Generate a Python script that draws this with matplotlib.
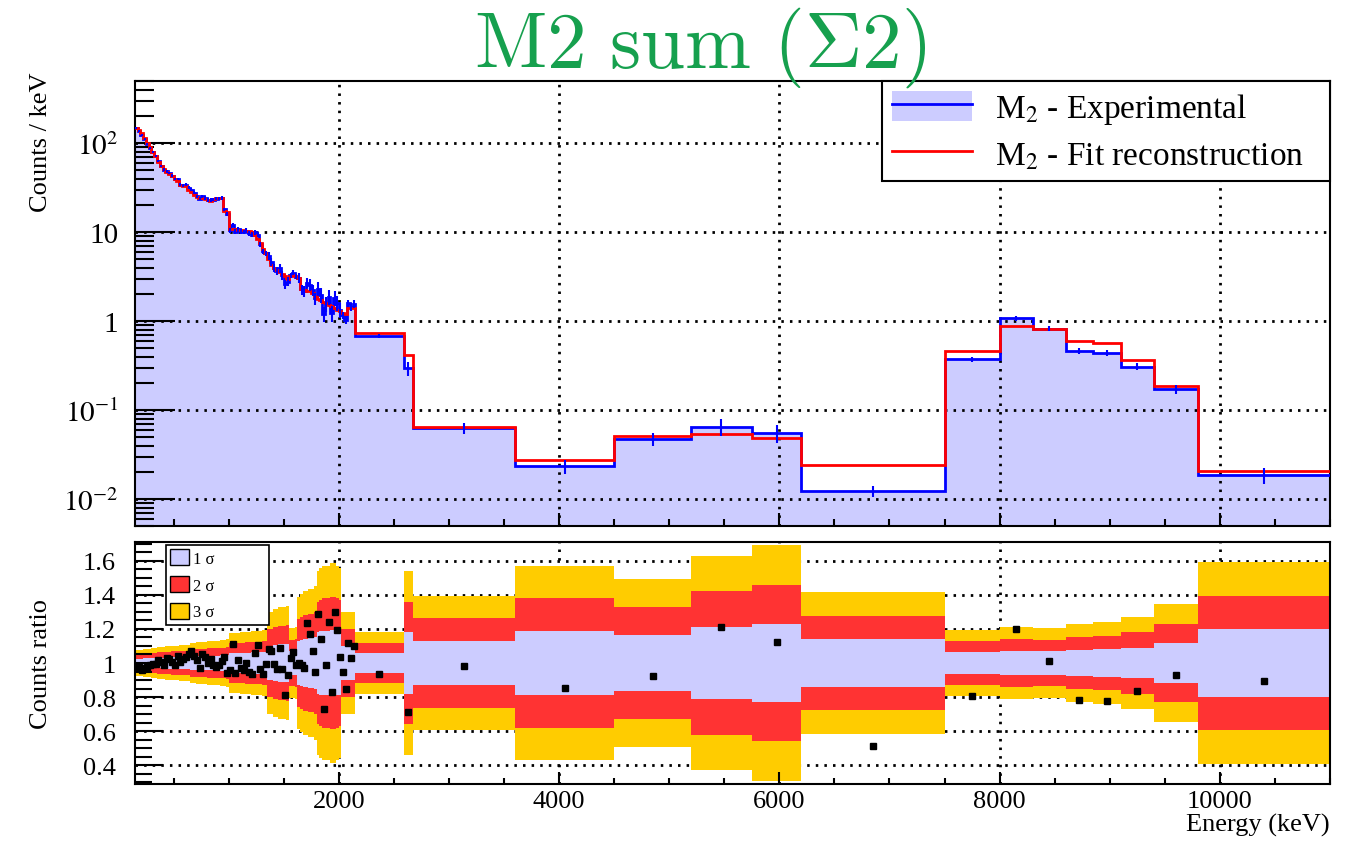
import numpy as np
import matplotlib
matplotlib.use("Agg")
import matplotlib.pyplot as plt
from matplotlib.patches import Patch
from matplotlib.lines import Line2D
from matplotlib.ticker import FixedLocator, LogLocator, MultipleLocator, NullFormatter, FuncFormatter

plt.rcParams["font.family"] = ["Liberation Serif", "DejaVu Serif"]
plt.rcParams["mathtext.fontset"] = "stix"

# -----------------------------------------------------
# DATA
# -----------------------------------------------------
# fine binning at low energy (25 keV bins from 150 to 2150 keV)
fine_start = 150
fine_stop = 2150
fine_width = 25

# wide bins above 2150 keV
wide_edges = [2150, 2590, 2670, 3600, 4500, 5200, 5750, 6200, 7500,
              8000, 8300, 8600, 8850, 9100, 9400, 9800, 11000]

# fit reconstruction (counts / keV)
fit_fine = [150, 140, 130, 115, 100, 90, 80, 72, 62, 55,
            51, 47, 45, 43, 40, 38, 34, 33, 33, 30,
            28, 26.5, 25, 24.5, 24, 23.5, 23, 22.5, 23.5, 24.5,
            24.3, 24, 17.5, 17, 11, 10.8, 10.8, 10.6, 10.6, 10.5,
            10.4, 10.3, 10, 9.4, 8.5, 7.6, 6.5, 5.8, 5.0, 4.3,
            4.0, 3.8, 3.6, 3.4, 3.2, 3.0, 3.2, 3.3, 3.2, 3.1,
            2.3, 2.25, 2.2, 2.2, 2.1, 1.9, 1.8, 1.75, 1.66, 1.6,
            1.52, 1.48, 1.42, 1.34, 1.3, 1.23, 1.22, 1.42, 1.42, 1.42]
fit_wide = [0.73, 0.42, 0.064, 0.0275, 0.0519, 0.0537, 0.0493, 0.0242,
            0.466, 0.895, 0.82, 0.593, 0.568, 0.37, 0.186, 0.0209]

# experimental / fit ratio
ratio_fine = [0.985, 0.976, 0.956, 0.97, 0.976, 0.986, 0.995, 0.995, 1.02, 1.005,
              0.99, 1.029, 1.025, 1.005, 0.991, 1.044, 1.005, 1.025, 1.034, 1.054,
              1.07, 1.044, 1.02, 0.972, 1.054, 1.034, 0.999, 1.025, 0.991, 0.976,
              0.986, 1.01, 1.034, 0.943, 0.956, 1.112, 0.943, 1.015, 0.97, 0.956,
              1.0, 0.946, 0.937, 1.06, 1.103, 0.966, 0.937, 0.995, 1.083, 1.073,
              0.995, 0.966, 1.089, 0.962, 0.81, 0.931, 1.03, 1.067, 0.99, 1.0,
              0.99, 0.972, 1.235, 1.171, 1.073, 0.95, 1.288, 1.138, 0.728, 0.99,
              1.243, 0.829, 1.298, 1.196, 1.038, 0.95, 0.849, 1.12, 1.028, 1.1]
ratio_wide = [0.937, 0.712, 0.985, 0.853, 0.923, 1.214, 1.124, 0.513,
              0.804, 1.2, 1.009, 0.785, 0.775, 0.835, 0.927, 0.894]

# relative uncertainty (1 sigma)
sigma_fine = [0.025, 0.025, 0.026, 0.027, 0.027, 0.028, 0.03, 0.03, 0.031, 0.031,
              0.032, 0.033, 0.033, 0.034, 0.034, 0.034, 0.035, 0.035, 0.036, 0.036,
              0.04, 0.04, 0.041, 0.041, 0.042, 0.042, 0.043, 0.043, 0.043, 0.044,
              0.044, 0.045, 0.045, 0.046, 0.058, 0.058, 0.059, 0.059, 0.06, 0.06,
              0.061, 0.061, 0.062, 0.062, 0.063, 0.063, 0.064, 0.064, 0.1, 0.1,
              0.105, 0.105, 0.11, 0.11, 0.11, 0.112, 0.068, 0.068, 0.07, 0.13,
              0.135, 0.14, 0.14, 0.145, 0.145, 0.15, 0.18, 0.185, 0.19, 0.19,
              0.19, 0.195, 0.195, 0.19, 0.185, 0.1, 0.1, 0.1, 0.1, 0.1]
sigma_wide = [0.06, 0.18, 0.132, 0.19, 0.165, 0.21, 0.23, 0.139,
              0.064, 0.07, 0.068, 0.076, 0.08, 0.09, 0.115, 0.197]

ylabels_top = {1e-2: r"$10^{-2}$", 1e-1: r"$10^{-1}$", 1: "1", 10: "10", 1e2: r"$10^{2}$"}
ratio_ticks = [0.4, 0.6, 0.8, 1.0, 1.2, 1.4, 1.6]

# -----------------------------------------------------
# PREPARATION
# -----------------------------------------------------
edges = np.concatenate([np.arange(fine_start, fine_stop + 1, fine_width), wide_edges[1:]]).astype(float)
fit = np.array(fit_fine + fit_wide)
ratio = np.array(ratio_fine + ratio_wide)
sigma = np.array(sigma_fine + sigma_wide)
exp_counts = fit * ratio
centers = 0.5 * (edges[:-1] + edges[1:])

LAVENDER = "#ccccff"
RED_BAND = "#ff3333"
YELLOW = "#ffcc00"
GRID_LS = (0, (0.9, 2.2))

fig = plt.figure(figsize=(13.51, 8.45), dpi=100)
ax1 = fig.add_axes([0.0999, 0.3763, 0.8846, 0.5266])
ax2 = fig.add_axes([0.0999, 0.0710, 0.8846, 0.2864])

# -----------------------------------------------------
# SPECTRUM
# -----------------------------------------------------
ax1.set_yscale("log")
ax1.stairs(exp_counts, edges, baseline=1e-4, fill=True, color=LAVENDER, lw=0, zorder=1)
ax1.stairs(exp_counts, edges, baseline=None, color="#0000ff", lw=2, zorder=3)
ax1.stairs(fit, edges, baseline=None, color="#ff0000", lw=2, zorder=4)
ax1.errorbar(centers, exp_counts, yerr=exp_counts * sigma, fmt="none",
             ecolor="#0000ff", elinewidth=1.5, zorder=5)

ax1.set_xlim(150, 11000)
ax1.set_ylim(0.005, 500)
ax1.set_axisbelow(False)
ax1.grid(True, which="major", color="black", linestyle=GRID_LS, linewidth=2)
ax1.grid(False, which="minor")

ax1.xaxis.set_major_locator(MultipleLocator(2000))
ax1.xaxis.set_minor_locator(MultipleLocator(500))
ax1.xaxis.set_major_formatter(NullFormatter())
ax1.yaxis.set_major_locator(FixedLocator(list(ylabels_top.keys())))
ax1.yaxis.set_major_formatter(FuncFormatter(lambda v, p: ylabels_top.get(v, "")))
ax1.yaxis.set_minor_locator(LogLocator(base=10, subs=np.arange(2, 10)))
ax1.yaxis.set_minor_formatter(NullFormatter())
ax1.tick_params(axis="both", which="both", direction="in", top=False, right=False, width=1.5)
ax1.tick_params(axis="y", which="major", length=29, labelsize=21, pad=12)
ax1.tick_params(axis="y", which="minor", length=14)
ax1.tick_params(axis="x", which="major", length=9.5)
ax1.tick_params(axis="x", which="minor", length=5)
for s in ax1.spines.values():
    s.set_linewidth(1.5)

handles = [(Patch(facecolor=LAVENDER, edgecolor="none"), Line2D([], [], color="#0000ff", lw=2)),
           Line2D([], [], color="#ff0000", lw=2)]
leg1 = ax1.legend(handles, ["M$_2$ - Experimental", "M$_2$ - Fit reconstruction"],
                  loc="upper left", bbox_to_anchor=(0.625, 0.775, 0.375, 0.225), mode="expand",
                  borderaxespad=0, fancybox=False, edgecolor="black", framealpha=1,
                  fontsize=24, handlelength=2.4, handleheight=1.0, handletextpad=0.7,
                  borderpad=0.3, labelspacing=0.35)
leg1.get_frame().set_linewidth(1.5)

# -----------------------------------------------------
# RATIO
# -----------------------------------------------------
for gy in [0.4, 0.6, 0.8, 1.2, 1.4, 1.6]:
    ax2.axhline(gy, color="black", linestyle=GRID_LS, linewidth=2, zorder=0.5)
for gx in range(2000, 11000, 2000):
    ax2.axvline(gx, color="black", linestyle=GRID_LS, linewidth=2, zorder=0.5)

ax2.stairs(1 + 3 * sigma, edges, baseline=1 - 3 * sigma, fill=True, color=YELLOW, lw=0, zorder=1)
ax2.stairs(1 + 2 * sigma, edges, baseline=1 - 2 * sigma, fill=True, color=RED_BAND, lw=0, zorder=1.1)
ax2.stairs(1 + sigma, edges, baseline=1 - sigma, fill=True, color=LAVENDER, lw=0, zorder=1.2)
ax2.plot(centers, ratio, "s", color="black", ms=3.8, zorder=4)

ax2.set_xlim(150, 11000)
ax2.set_ylim(0.29, 1.71)
ax2.xaxis.set_major_locator(MultipleLocator(2000))
ax2.xaxis.set_minor_locator(MultipleLocator(500))
ax2.yaxis.set_major_locator(FixedLocator(ratio_ticks))
ax2.yaxis.set_major_formatter(FuncFormatter(lambda v, p: f"{v:g}"))
ax2.yaxis.set_minor_locator(MultipleLocator(0.05))
ax2.tick_params(axis="both", which="both", direction="in", top=False, right=False, width=1.5,
                labelsize=19)
ax2.tick_params(axis="y", which="major", length=20, pad=14)
ax2.tick_params(axis="y", which="minor", length=12)
ax2.tick_params(axis="x", which="major", length=9, pad=4)
ax2.tick_params(axis="x", which="minor", length=4)
for s in ax2.spines.values():
    s.set_linewidth(1.5)
ax2.set_xlabel("Energy (keV)", fontsize=19, loc="right", labelpad=1)

band_handles = [Patch(facecolor=c, edgecolor="black", lw=1) for c in (LAVENDER, RED_BAND, YELLOW)]
leg2 = ax2.legend(band_handles, ["1 σ", "2 σ", "3 σ"], loc="upper left",
                  bbox_to_anchor=(0.026, 0.645, 0.0862, 0.343), mode="expand",
                  borderaxespad=0, fancybox=False, edgecolor="black", framealpha=1,
                  fontsize=12, handlelength=1.1, handleheight=1.1, handletextpad=0.25,
                  borderpad=0.25, labelspacing=0.55)
leg2.get_frame().set_linewidth(1.2)
leg2.set_zorder(6)

# -----------------------------------------------------
# TEXTS
# -----------------------------------------------------
fig.text(0.518, 0.92, r"$\mathrm{M2\ sum\ (\Sigma2)}$", math_fontfamily="cm",
         color="#16a04e", fontsize=57, ha="center", va="baseline")
fig.text(0.030, 1 - 73 / 845, "Counts / keV", rotation=90, ha="center", va="top", fontsize=19)
fig.text(0.030, 1 - 664 / 845, "Counts ratio", rotation=90, ha="center", va="center", fontsize=19)

fig.savefig("out.png", dpi=100)
